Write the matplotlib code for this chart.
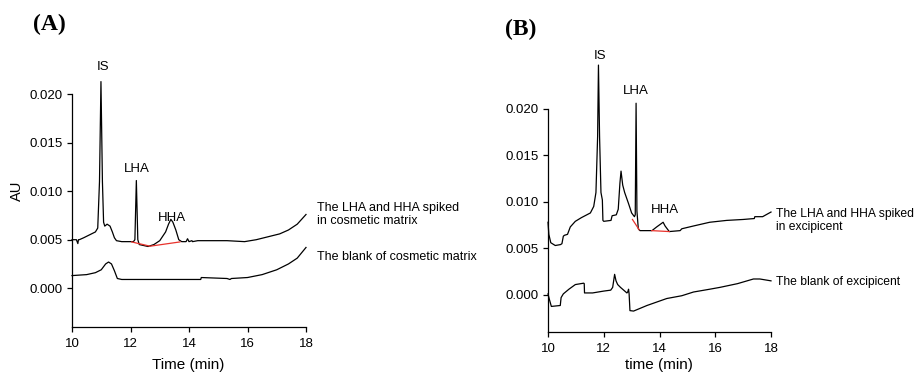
import matplotlib
matplotlib.use("Agg")
import matplotlib.pyplot as plt

plt.rcParams['font.family'] = ['Liberation Sans', 'DejaVu Sans']

# ---------------- Data: panel A ----------------
tA_spiked = [10.0, 10.15, 10.2, 10.22, 10.25, 10.4, 10.6, 10.8, 10.88, 10.94, 10.99, 11.04, 11.08,
             11.12, 11.2, 11.3, 11.38, 11.45, 11.52, 11.7, 11.9, 12.1, 12.15, 12.2, 12.25, 12.3,
             12.45, 12.6, 12.8, 13.0, 13.2, 13.3, 13.38, 13.45, 13.55, 13.65, 13.75, 13.9, 13.95,
             14.0, 14.1, 14.12, 14.3, 14.8, 15.3, 15.9, 16.3, 16.7, 17.1, 17.4, 17.7, 18.0]
vA_spiked = [0.0050, 0.0050, 0.0046, 0.0050, 0.0050, 0.0052, 0.0055, 0.0058, 0.0062, 0.0110, 0.0213,
             0.0110, 0.0068, 0.0064, 0.0066, 0.0064, 0.0058, 0.0052, 0.0049, 0.0048, 0.0048, 0.0048,
             0.0050, 0.0111, 0.0050, 0.0045, 0.0044, 0.0043, 0.0045, 0.0049, 0.0058, 0.0066, 0.0071,
             0.0068, 0.0060, 0.0050, 0.0048, 0.0048, 0.0051, 0.0048, 0.0049, 0.0048, 0.0049, 0.0049,
             0.0049, 0.0048, 0.0050, 0.0053, 0.0056, 0.0060, 0.0066, 0.0076]
tA_blank = [10.0, 10.5, 10.8, 11.0, 11.15, 11.25, 11.35, 11.45, 11.55, 11.7, 12.5, 13.5, 14.4, 14.42,
            15.3, 15.4, 15.45, 16.0, 16.5, 17.0, 17.4, 17.7, 18.0]
vA_blank = [0.0013, 0.0014, 0.0016, 0.0019, 0.0025, 0.0027, 0.0025, 0.0018, 0.0010, 0.0009, 0.0009,
            0.0009, 0.0009, 0.0011, 0.0010, 0.0009, 0.0010, 0.0011, 0.0014, 0.0019, 0.0025, 0.0031, 0.0042]
tA_base = [12.04, 12.67, 13.69]
vA_base = [0.00477, 0.00433, 0.00477]

# ---------------- Data: panel B ----------------
tB_spiked = [10.0, 10.03, 10.1, 10.26, 10.45, 10.5, 10.55, 10.59, 10.7, 10.8, 10.98, 11.2, 11.52, 11.64,
             11.72, 11.78, 11.81, 11.85, 11.9, 11.95, 11.97, 12.0, 12.26, 12.3, 12.45, 12.52, 12.58,
             12.62, 12.68, 12.75, 12.89, 13.0, 13.1, 13.13, 13.16, 13.19, 13.24, 13.3, 13.55, 13.73,
             13.9, 14.13, 14.2, 14.35, 14.74, 14.8, 15.22, 15.8, 16.41, 17.0, 17.4, 17.42, 17.7, 18.0]
vB_spiked = [0.0078, 0.0065, 0.0056, 0.0053, 0.0054, 0.0055, 0.0063, 0.0064, 0.0065, 0.0073, 0.0079,
             0.0083, 0.0088, 0.0095, 0.0110, 0.0170, 0.0247, 0.0170, 0.0110, 0.0102, 0.0080, 0.0079,
             0.0080, 0.0085, 0.0086, 0.0092, 0.0120, 0.0133, 0.0118, 0.0110, 0.0098, 0.0088, 0.0084,
             0.0086, 0.0206, 0.0090, 0.0071, 0.0069, 0.0069, 0.0069, 0.0073, 0.0078, 0.0074, 0.0068,
             0.0069, 0.0071, 0.0074, 0.0078, 0.0080, 0.0081, 0.0082, 0.0084, 0.0084, 0.0089]
tB_blank = [10.0, 10.05, 10.12, 10.44, 10.47, 10.55, 10.75, 10.98, 11.28, 11.3, 11.31, 11.6, 12.0,
            12.25, 12.32, 12.39, 12.44, 12.5, 12.6, 12.83, 12.86, 12.89, 12.91, 12.94, 13.07, 13.55,
            14.26, 14.8, 15.22, 15.8, 16.17, 16.8, 17.37, 17.6, 18.0]
vB_blank = [0.0001, -0.0005, -0.00125, -0.00115, -0.0003, 0.0001, 0.0006, 0.0011, 0.00125, 0.0012,
            0.0002, 0.0002, 0.0004, 0.0005, 0.0008, 0.0022, 0.0015, 0.0011, 0.0008, 0.0002, 0.0003,
            0.0006, 0.0001, -0.0017, -0.00175, -0.00115, -0.0004, -0.0001, 0.0003, 0.0006, 0.0008,
            0.0012, 0.0017, 0.0017, 0.0015]
tB_base1 = [13.03, 13.27]
vB_base1 = [0.0081, 0.0070]
tB_base2 = [13.72, 14.35]
vB_base2 = [0.0069, 0.0068]

x_ticks = [10, 12, 14, 16, 18]
y_ticks = [0.000, 0.005, 0.010, 0.015, 0.020]
y_ticklabels = ["0.000", "0.005", "0.010", "0.015", "0.020"]

W, H = 916, 372
fig = plt.figure(figsize=(W / 100, H / 100), dpi=100)

def px_ax(left, right, bottom, top):
    return fig.add_axes([left / W, 1 - bottom / H, (right - left) / W, (bottom - top) / H])

axA = px_ax(72, 306, 327, 55.4)
axB = px_ax(548, 771, 332, 53)

def style(ax, ylim):
    ax.set_xlim(10, 18)
    ax.set_ylim(*ylim)
    for s in ['top', 'right']:
        ax.spines[s].set_visible(False)
    ax.spines['left'].set_bounds(-0.004, 0.020)
    ax.spines['bottom'].set_bounds(10, 18)
    ax.spines['left'].set_linewidth(0.9)
    ax.spines['bottom'].set_linewidth(0.9)
    ax.set_xticks(x_ticks)
    ax.set_yticks(y_ticks)
    ax.set_yticklabels(y_ticklabels)
    ax.tick_params(axis='both', direction='out', length=3.5, width=0.9, labelsize=9.5)
    ax.tick_params(axis='x', pad=4.5)
    ax.tick_params(axis='y', pad=3)
    ax.patch.set_visible(False)

lw = 0.9
lab_fs = 9
peak_fs = 9.5
# Panel A
style(axA, (-0.004, 0.024))
axA.plot(tA_spiked, vA_spiked, color='black', lw=lw, clip_on=False)
axA.plot(tA_blank, vA_blank, color='black', lw=lw, clip_on=False)
axA.plot(tA_base, vA_base, color='#e8322c', lw=lw)
axA.text(11.06, 0.0228, "IS", ha='center', va='center', fontsize=peak_fs)
axA.text(12.22, 0.01227, "LHA", ha='center', va='center', fontsize=peak_fs)
axA.text(13.42, 0.0072, "HHA", ha='center', va='center', fontsize=peak_fs)
axA.text(18.38, 0.0076, "The LHA and HHA spiked\nin cosmetic matrix", ha='left', va='center',
         fontsize=lab_fs, linespacing=1.1, clip_on=False)
axA.text(18.38, 0.0032, "The blank of cosmetic matrix", ha='left', va='center', fontsize=lab_fs, clip_on=False)
axA.set_ylabel("AU", fontsize=10.5)
axA.yaxis.set_label_coords(-0.205, 0.5)

# Panel B
style(axB, (-0.004, 0.026))
axB.plot(tB_spiked, vB_spiked, color='black', lw=lw, clip_on=False)
axB.plot(tB_blank, vB_blank, color='black', lw=lw, clip_on=False)
axB.plot(tB_base1, vB_base1, color='#e8322c', lw=lw)
axB.plot(tB_base2, vB_base2, color='#e8322c', lw=lw)
axB.text(11.86, 0.0257, "IS", ha='center', va='center', fontsize=peak_fs)
axB.text(13.15, 0.0219, "LHA", ha='center', va='center', fontsize=peak_fs)
axB.text(14.19, 0.0091, "HHA", ha='center', va='center', fontsize=peak_fs)
axB.text(18.17, 0.0080, "The LHA and HHA spiked\nin excipicent", ha='left', va='center',
         fontsize=8.7, linespacing=1.1, clip_on=False)
axB.text(18.17, 0.0014, "The blank of excipicent", ha='left', va='center', fontsize=8.7, clip_on=False)

# x labels (near the bottom edge, like the reference)
fig.text(188 / W, 1 - 365 / H, "Time (min)", ha='center', va='center', fontsize=11)
fig.text(659 / W, 1 - 365 / H, "time (min)", ha='center', va='center', fontsize=11)

# panel letters
fig.text(33 / W, 1 - 24 / H, "(A)", ha='left', va='center', fontsize=17, fontweight='bold',
         family=['Liberation Serif', 'DejaVu Serif'])
fig.text(505 / W, 1 - 29 / H, "(B)", ha='left', va='center', fontsize=17, fontweight='bold',
         family=['Liberation Serif', 'DejaVu Serif'])

fig.savefig("out.png", dpi=100)
